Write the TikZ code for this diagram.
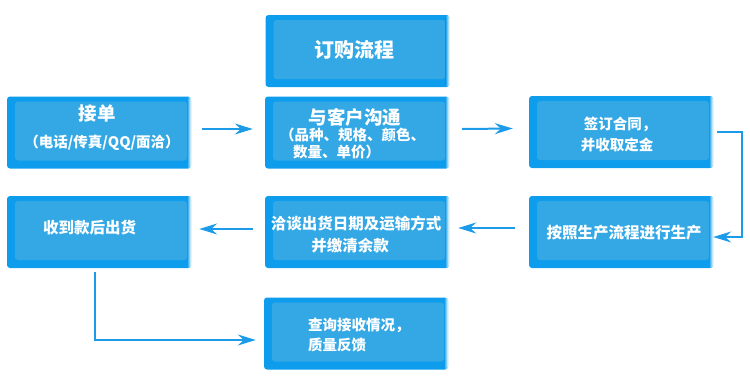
\documentclass[tikz,border=0pt]{standalone}
\usepackage{fontspec}
\newfontfamily\cjk{Noto Sans CJK SC}
\usetikzlibrary{arrows.meta}
\definecolor{outerblue}{HTML}{0E9DEC}
\definecolor{innerblue}{HTML}{34A8E5}
\definecolor{arrowblue}{HTML}{1C9BE9}
\tikzset{
  box/.style={minimum width=184pt, minimum height=72pt, inner sep=0pt, fill=outerblue, rounded corners=3pt,
    path picture={
      \fill[innerblue] ([xshift=8pt,yshift=8pt]path picture bounding box.south west) rectangle ([xshift=-4pt,yshift=-5pt]path picture bounding box.north east);
      \shade[left color=outerblue, right color=white] ([xshift=-4pt]path picture bounding box.south east) rectangle (path picture bounding box.north east);
    }},
  lbl/.style={text=white, inner sep=0pt, font=\cjk\bfseries\fontsize{14.5}{16}\selectfont},
  lblw/.style={text=white, inner sep=0pt, font=\cjk\bfseries\fontsize{15.5}{16}\selectfont},
  lblbig/.style={text=white, inner sep=0pt, font=\cjk\bfseries\fontsize{18.5}{20}\selectfont},
  lbltitle/.style={text=white, inner sep=0pt, font=\cjk\bfseries\fontsize{20}{22}\selectfont},
  flow/.style={draw=arrowblue, line width=2pt, -{Stealth[length=18pt,width=11pt,inset=6pt]}}
}
\begin{document}
\begin{tikzpicture}[x=1pt,y=-1pt]
\useasboundingbox (0,0) rectangle (750,381);
% boxes
\node[box] (title) at (357.5,51) {};
\node[box] (b1) at (99,132.5) {};
\node[box] (b2) at (357,132.5) {};
\node[box] (b3) at (621,132) {};
\node[box] (b4) at (99,232) {};
\node[box] (b5) at (357,232) {};
\node[box] (b6) at (621,232) {};
\node[box] (b7) at (356,333.5) {};
% texts
\node[lbltitle] (tt) at (354,50) {订购流程};
\node[lblbig] (t1a) at (97,113) {接单};
\node[lbl] (t1b) at (102,143) {（电话/传真/QQ/面洽）};
\node[lblbig] (t2a) at (355,117) {与客户沟通};
\node[lbl, anchor=west] (t2b) at (280,135) {（品种、规格、颜色、};
\node[lbl, anchor=west] (t2c) at (293,152) {数量、单价）};
\node[lbl] (t3a) at (620,124) {签订合同，};
\node[lbl] (t3b) at (617,145) {并收取定金};
\node[lblw, anchor=west] (t4) at (43,228) {收到款后出货};
\node[lblw] (t5a) at (356,224) {洽谈出货日期及运输方式};
\node[lblw] (t5b) at (350,246) {并缴清余款};
\node[lblw] (t6) at (624,233) {按照生产流程进行生产};
\node[lbl, anchor=west] (t7a) at (308,325) {查询接收情况，};
\node[lbl, anchor=west] (t7b) at (308,345) {质量反馈};
% connectors
\draw[flow] ([xshift=11pt,yshift=3.5pt]b1.east) -- ([xshift=-12pt,yshift=3.5pt]b2.west);
\draw[flow] ([xshift=13pt,yshift=3.5pt]b2.east) -- ([xshift=-16pt,yshift=3.5pt]b3.west);
\coordinate (c3a) at (742,132);
\coordinate (c3b) at (742,237);
\draw[flow] ([xshift=4pt]b3.east) -- (c3a) -- (c3b) -- (b6.east |- c3b);
\draw[flow] ([xshift=-14pt,yshift=4pt]b6.west) -- ([xshift=9pt,yshift=4pt]b5.east);
\draw[flow] ([xshift=-12pt,yshift=3pt]b5.west) -- ([xshift=8pt,yshift=3pt]b4.east);
\coordinate (c4) at (95,340);
\draw[flow] ([yshift=-4pt]b4.south -| c4) -- (c4) -- ([xshift=-8pt]b7.west |- c4);
\end{tikzpicture}
\end{document}
